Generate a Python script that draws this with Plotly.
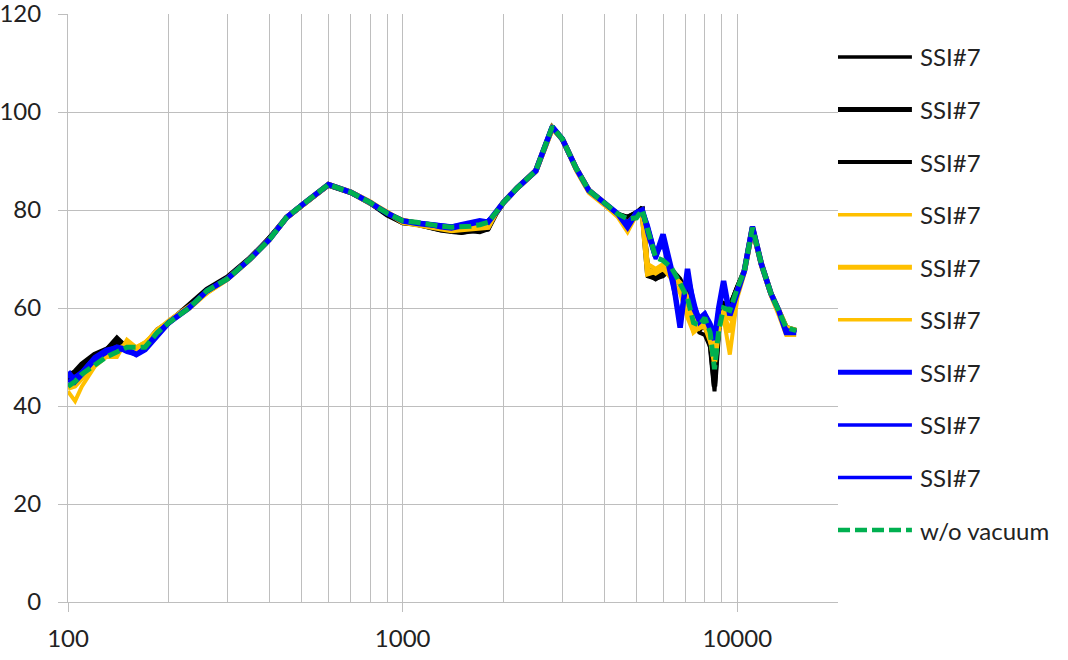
import plotly.graph_objects as go

# Frequency grid (Hz) shared by all curves
freq = [100, 105, 110, 115, 120, 130, 140, 150, 160, 170, 185, 200, 230, 260, 300, 350, 400, 450, 500,
        600, 700, 800, 900, 1000, 1100, 1200, 1300, 1400, 1500, 1600, 1700, 1800, 1900, 2000, 2200,
        2500, 2800, 3000, 3300, 3600, 4000, 4400, 4700, 5000, 5200, 5400, 5700, 6000, 6350, 6750,
        7100, 7400, 7700, 8000, 8300, 8550, 8800, 9100, 9500, 10000, 10500, 11100, 11800, 12600,
        13300, 14000, 15000]

# black runs
black_1 = [45, 46.5, 48, 49, 50, 51.5, 54, 52, 51, 52.5, 55, 57, 60.5, 63.5, 66, 70, 74.5, 78.5, 81,
           85.3, 83.5, 81.5, 79, 77.3, 77, 76.3, 75.8, 75.5, 75.3, 75.6, 75.8, 76, 79.5, 81.5, 84.5,
           88, 97, 94.5, 88.5, 84, 81.5, 79, 78, 79, 80.5,
           66.5, 66, 66.5, 68, 66, 63, 58, 55, 54.5, 52, 43, 55, 60.5, 60.5, 64.5,
           67.6, 76.5, 69, 63, 59.5, 56, 55.4]
black_2 = [46, 47, 48.5, 49.5, 50.5, 51.5, 53, 52.5, 51, 52.5, 55.5, 57, 60.5, 63.8, 66.3, 70.2, 74.2,
           78.5, 81, 85.2, 83.6, 81.5, 79, 77.5, 77.2, 76.5, 76, 75.8, 75.5, 75.8, 75.6, 76.2, 79.3,
           81.5, 84.5, 88, 96.8, 94.5, 88.5, 84, 81.3, 79, 78.5, 79.5, 80,
           67, 66, 67, 67.5, 65, 62, 57, 55.5, 57, 53, 44, 56, 60, 60, 64,
           67.6, 76.4, 69, 63, 59.5, 56, 55.4]
black_3 = [45.5, 46, 47.5, 48.5, 49.5, 51, 52.5, 51.5, 51.5, 52.5, 55, 57.3, 60.3, 63.5, 66, 70, 74,
           78.3, 80.8, 85, 83.5, 81.3, 79.2, 77.6, 77.3, 76.8, 76.3, 76, 75.8, 76, 76.2, 76.4, 79.5,
           81.5, 84.5, 88, 97, 94.3, 88.5, 84, 81.5, 79.2, 78.5, 79.5, 80.5,
           68, 67, 68.5, 67.5, 65.5, 62.5, 57.5, 56, 56, 54, 45, 56.5, 61, 60.5, 64,
           67.6, 76.5, 69, 63, 59.5, 55.8, 55.4]

# yellow runs
yellow_1 = [43, 41, 44, 46, 48, 50, 50, 53.5, 52, 53, 55.5, 57.5, 60.5, 63, 65.8, 69.8, 74, 78.3, 80.8,
            85, 83.8, 81.8, 79.5, 78, 77.5, 76.8, 76.3, 76, 76, 76.2, 76.5, 76.8, 79.5, 81.5, 84.3,
            87.8, 96.5, 94.5, 88, 83.5, 81, 78.5, 75.5, 79, 79.5,
            68, 67, 68, 66, 63, 58, 55, 58, 57, 54, 50, 56, 58, 50.5, 62,
            67, 76, 68.5, 62.5, 58.5, 54.5, 54.5]
yellow_2 = [44, 44.5, 46, 47.5, 49, 50.5, 51.5, 52.5, 51.5, 52.5, 55.5, 57, 60, 63.2, 66, 70, 74, 78.5,
            81, 85.2, 83.6, 81.5, 79.5, 77.5, 77, 76.5, 76, 75.8, 76, 76.2, 76.3, 76.5, 79.5, 81.5,
            84.5, 88, 96.7, 94.5, 88.5, 84, 81.5, 79, 77, 79, 79.5,
            67, 67.5, 68, 67, 65, 62, 57.5, 56, 57, 54, 49, 56, 59, 58, 63.5,
            67.5, 76.3, 69, 63, 59.5, 56, 55.4]
yellow_3 = [43.5, 44, 45.5, 47, 48.5, 50, 51, 52, 52, 53, 55.3, 57.2, 60.2, 63.3, 66, 70, 74, 78.3, 81,
            85.1, 83.7, 81.6, 79.4, 78, 77.4, 76.8, 76.3, 76, 76.2, 76.5, 76.6, 77, 79.5, 81.5, 84.4,
            88, 96.8, 94.6, 88.3, 84, 81.5, 79, 77.5, 79.2, 79.8,
            69, 68, 69, 67.5, 65, 61, 55, 56, 56, 53, 52, 57, 59.5, 55, 63,
            67.5, 76.4, 69, 63, 59, 55.5, 55]

# blue runs
blue_1 = [47, 45, 46.5, 48, 49.5, 51, 52, 51.5, 50.5, 51.5, 54.5, 57, 60, 63.5, 66, 70, 74, 78.5, 81,
          85.2, 83.6, 81.5, 79.3, 77.8, 77.3, 77, 76.5, 76.5, 77, 77.5, 77.8, 77.5, 79.5, 81.5, 84.5,
          88, 97, 94.5, 88.5, 84, 81.5, 79.2, 76.5, 79.5, 80,
          76, 70.5, 75, 68, 56, 68, 60, 57.5, 58.5, 56, 53.5, 60, 65.5, 58.5, 63.5,
          67.6, 76.6, 69, 63, 59.5, 55, 55]
blue_2 = [46, 46, 47, 48.5, 49.5, 51, 51.5, 51.5, 50.5, 52, 55, 57, 60, 63.3, 66, 70, 74, 78.3, 81,
          85.1, 83.6, 81.4, 79.4, 77.8, 77.5, 77.2, 76.8, 76.7, 77, 77.3, 77.5, 77.8, 79.3, 81.5,
          84.5, 88, 96.8, 94.6, 88.5, 84, 81.4, 79.2, 77.5, 79.3, 80,
          77, 71, 73, 66, 58, 66, 61, 58, 59, 57, 55, 59, 64, 59, 64,
          67.6, 76.5, 69, 63, 59.5, 55.5, 55]
blue_3 = [45, 45.5, 47, 48.5, 50, 51.5, 52, 51, 50.5, 52, 55, 57.2, 60.2, 63.5, 66, 70, 74, 78.5, 81,
          85.2, 83.6, 81.5, 79.3, 77.7, 77.4, 77, 76.4, 76.2, 76.6, 77, 77.3, 77.8, 79.4, 81.5, 84.5,
          88, 97, 94.5, 88.5, 84, 81.5, 79.2, 77, 79.5, 80,
          75, 70, 74, 67, 57, 67, 62, 57, 58, 56, 54, 60, 65, 59, 63.5,
          67.6, 76.4, 69, 63, 59.5, 55.5, 55]

# reference without vacuum
no_vacuum = [44, 45, 46.5, 47.5, 48.5, 50, 51, 52, 52, 52, 55, 57, 60, 63.5, 66, 70, 74, 78.5, 81,
             85.2, 83.6, 81.5, 79.3, 77.8, 77.5, 77, 76.7, 76.5, 76.5, 76.7, 77, 77.5, 79.5, 81.5,
             84.5, 88, 97, 94.5, 88.5, 84, 81.5, 79.2, 78.2, 78.4, 80,
             75.8, 70.3, 69.7, 68.3, 65, 62, 57, 56.5, 58, 55, 47.5, 55.4, 60, 59.5, 64,
             67.6, 76.4, 69, 63, 59.5, 56, 55.4]

x_ticks = [100, 1000, 10000]
x_labels = ["100", "1000", "10000"]

names = ["SSI#7"] * 9 + ["w/o vacuum"]
series = [black_1, black_2, black_3, yellow_1, yellow_2, yellow_3, blue_1, blue_2, blue_3, no_vacuum]
colors = ["#000000"] * 3 + ["#FFC000"] * 3 + ["#0000FF"] * 3 + ["#00B050"]
widths = [4, 5.5, 4.5, 4, 5.5, 4, 5.5, 4, 4, 5]
dashes = ["solid"] * 9 + ["12px,5px"]

fig = go.Figure()
for y, c, w, d, n in zip(series, colors, widths, dashes, names):
    fig.add_trace(go.Scatter(x=freq, y=y, mode="lines", name=n, showlegend=False,
                             line=dict(color=c, width=w, dash=d)))

# hand-drawn legend on the right, Excel style
x0, x1, xt = 1.0, 1.096, 1.104
top, step = 0.927, 0.0894
for i, (c, w, d, n) in enumerate(zip(colors, widths, dashes, names)):
    yy = top - i * step
    fig.add_shape(type="line", xref="paper", yref="paper", x0=x0, x1=x1, y0=yy, y1=yy,
                  line=dict(color=c, width=w - 0.5, dash=d))
    fig.add_annotation(xref="paper", yref="paper", x=xt, y=yy, text=n, showarrow=False,
                       xanchor="left", yanchor="middle", font=dict(size=24, color="#222"))

grid = "#BEBEBE"
fig.update_xaxes(type="log", range=[2, 4.301], tickvals=x_ticks, ticktext=x_labels,
                 showgrid=True, gridcolor=grid, automargin=False, ticklabeloverflow="allow",
                 showline=True, linecolor=grid, ticks="outside", ticklen=9, tickcolor=grid,
                 ticklabelstandoff=6, zeroline=False,
                 minor=dict(dtick="D1", showgrid=True, gridcolor=grid, ticks=""))
fig.update_yaxes(range=[0, 120], dtick=20, showgrid=True, gridcolor=grid, showline=True,
                 linecolor=grid, ticks="outside", ticklen=9, tickcolor=grid, automargin=False,
                 ticklabeloverflow="allow", ticklabelstandoff=12, zeroline=False)
fig.update_layout(
    width=1068, height=660,
    margin=dict(l=68, r=230, t=14, b=58),
    plot_bgcolor="white", paper_bgcolor="white",
    font=dict(family="Lato", size=24, color="#222"),
)
# drop the page's default body margin so the figure sits at the window corner
fig.write_html("out.html", config={"displayModeBar": False},
               post_script="document.body.style.margin='0px';")
